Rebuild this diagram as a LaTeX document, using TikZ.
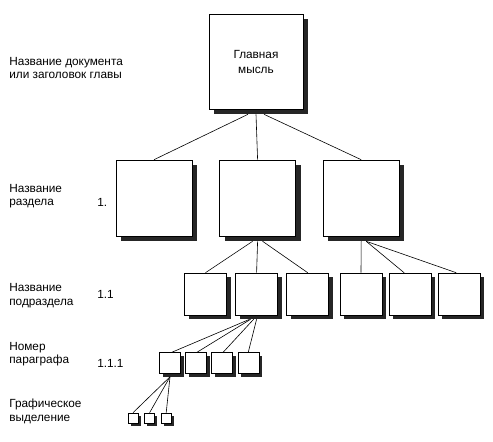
\documentclass[tikz,border=0pt]{standalone}
\usepackage{fontspec}
\setmainfont{Liberation Sans}
\usetikzlibrary{shadows, positioning}

\begin{document}
\begin{tikzpicture}[x=1pt,y=-1pt,line width=0.6pt,
  box/.style={draw, fill=white, inner sep=0pt,
    drop shadow={shadow xshift=#1, shadow yshift=-#1, fill=black!85, opacity=1}},
  box/.default=4pt,
  lbl/.style={anchor=west, align=left, inner sep=0pt, font=\fontsize{11.8}{13.5}\selectfont}]

\useasboundingbox (0,0) rectangle (493,442);

% define the boxes of the hierarchy
  \node[box=5pt, minimum width=94pt, minimum height=95pt, align=center,
        font=\fontsize{11.8}{15}\selectfont] (main) at (256,61.5) {Главная\\мысль};

  \node[box=5pt, minimum size=76pt] (s1) at (154,198) {};
  \node[box=5pt, minimum size=76pt] (s2) [right=27pt of s1] {};
  \node[box=5pt, minimum size=76pt] (s3) [right=27pt of s2] {};

  \node[box, minimum size=42pt] (ss1) at (205.5,294) {};
  \node[box, minimum size=42pt] (ss2) [right=8.5pt of ss1] {};
  \node[box, minimum size=42pt] (ss3) [right=8.5pt of ss2] {};
  \node[box, minimum size=42pt] (ss4) at (361,294) {};
  \node[box, minimum size=42pt] (ss5) [right=6.5pt of ss4] {};
  \node[box, minimum size=42pt] (ss6) [right=6.5pt of ss5] {};

  \node[box=3pt, minimum size=21pt] (p1) at (170,363) {};
  \node[box=3pt, minimum size=21pt] (p2) [right=4.5pt of p1] {};
  \node[box=3pt, minimum size=21pt] (p3) [right=4.5pt of p2] {};
  \node[box=3pt, minimum size=21pt] (p4) [right=4.5pt of p3] {};

  \node[box=2.5pt, minimum size=10pt] (g1) at (133,418) {};
  \node[box=2.5pt, minimum size=10pt] (g2) [right=6pt of g1] {};
  \node[box=2.5pt, minimum size=10pt] (g3) [right=6pt of g2] {};

% define the links
  \draw ([xshift=-8pt,yshift=-5pt]main.south) -- (s1.north);
  \draw ([yshift=-5pt]main.south) -- (s2.north);
  \draw ([xshift=8pt,yshift=-5pt]main.south) -- (s3.north);

  \draw ([xshift=-5pt,yshift=-5pt]s2.south) -- (ss1.north);
  \draw ([yshift=-5pt]s2.south) -- (ss2.north);
  \draw ([xshift=5pt,yshift=-5pt]s2.south) -- (ss3.north);

  \draw ([yshift=-5pt]s3.south) -- (ss4.north);
  \draw ([xshift=5pt,yshift=-5pt]s3.south) -- ([xshift=-6pt]ss5.north);
  \draw ([xshift=5pt,yshift=-5pt]s3.south) -- ([xshift=-3pt]ss6.north);

  \draw ([xshift=-7pt,yshift=-4pt]ss2.south) -- ([xshift=2pt]p1.north);
  \draw ([xshift=-6pt,yshift=-4pt]ss2.south) -- ([xshift=1pt]p2.north);
  \draw ([xshift=-3pt,yshift=-4pt]ss2.south) -- ([xshift=1pt]p3.north);
  \draw ([yshift=-4pt]ss2.south) -- (p4.north);

  \draw ([yshift=-3pt]p1.south) -- (g1.north);
  \draw ([yshift=-3pt]p1.south) -- (g2.north);
  \draw ([yshift=-3pt]p1.south) -- (g3.north);

% labels of the levels
  \node[lbl] (ldoc) at (9,68) {Название документа\\или заголовок главы};
  \node[lbl] (lsec) at (9,196) {Название\\раздела};
  \node[lbl] (lsub) at (9,295.5) {Название\\подраздела};
  \node[lbl] (lpar) at (9,354) {Номер\\параграфа};
  \node[lbl] (lgra) at (9,411.5) {Графическое\\выделение};

  \node[lbl] (nsec) at (97,202) {1.};
  \node[lbl] (nsub) at (97,294) {1.1};
  \node[lbl] (npar) at (97,363) {1.1.1};

\end{tikzpicture}
\end{document}
